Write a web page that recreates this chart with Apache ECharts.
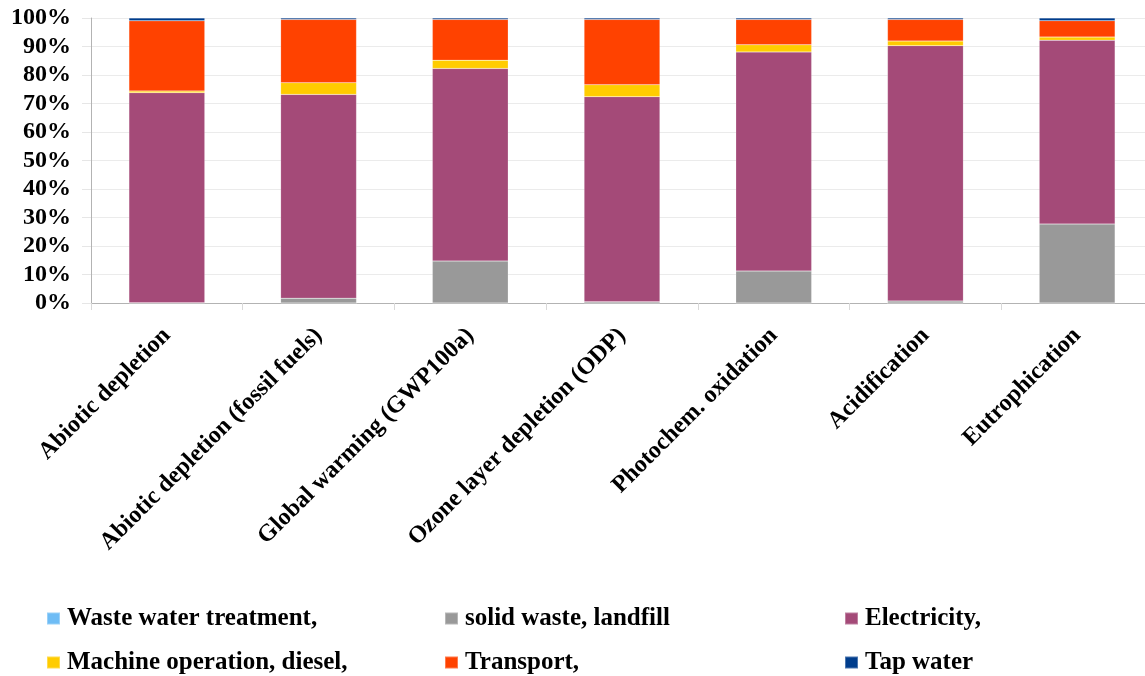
<!DOCTYPE html>
<html>
<head>
<meta charset="utf-8">
<script src="https://cdn.jsdelivr.net/npm/echarts@6/dist/echarts.min.js"></script>
<style>
  html, body { margin: 0; padding: 0; background: #ffffff; overflow: hidden; }
  /* the plot area runs slightly past the right edge of the window */
  #chart { width: 1153px; height: 676px; }
</style>
</head>
<body>
<div id="chart"></div>
<script>
// Impact categories along the x axis
const categories = [
  'Abiotic depletion',
  'Abiotic depletion (fossil fuels)',
  'Global warming (GWP100a)',
  'Ozone layer depletion (ODP)',
  'Photochem. oxidation',
  'Acidification',
  'Eutrophication'
];

// Contribution of each process to each impact category, in percent
const wasteWater  = [0.0, 0.0, 0.0, 0.0, 0.0, 0.0, 0.0];
const solidWaste  = [0.1, 1.7, 14.7, 0.4, 11.2, 0.7, 27.7];
const electricity = [73.7, 71.5, 67.6, 72.0, 76.9, 89.6, 64.5];
const diesel      = [0.6, 4.1, 2.9, 4.2, 2.5, 1.6, 1.1];
const transport   = [24.6, 22.2, 14.3, 22.9, 8.9, 7.6, 5.75];
const tapWater    = [1.0, 0.5, 0.5, 0.5, 0.5, 0.5, 0.95];

const yTicks = [0, 10, 20, 30, 40, 50, 60, 70, 80, 90, 100];

const seriesDefs = [
  { name: 'Waste water treatment,',    data: wasteWater,  color: '#6ebcf5' },
  { name: 'solid waste, landfill',     data: solidWaste,  color: '#999999' },
  { name: 'Electricity,',              data: electricity, color: '#a44a78' },
  { name: 'Machine operation, diesel,', data: diesel,     color: '#ffcc00' },
  { name: 'Transport,',                data: transport,   color: '#ff4200' },
  { name: 'Tap water',                 data: tapWater,    color: '#003d8c' }
];

const serif = '"Liberation Serif", "DejaVu Serif", serif';

// One legend box per entry so the entries sit in a fixed 3-column grid
const legendSlots = [
  { left: 46,  top: 606 }, { left: 444, top: 606 }, { left: 844, top: 606 },
  { left: 46,  top: 650 }, { left: 444, top: 650 }, { left: 844, top: 650 }
];

const chart = echarts.init(document.getElementById('chart'), null, { renderer: 'canvas' });

chart.setOption({
  backgroundColor: '#ffffff',
  animation: false,
  grid: { left: 91, right: 0, top: 18, bottom: 373 },
  legend: seriesDefs.map((s, i) => ({
    data: [s.name],
    left: legendSlots[i].left,
    top: legendSlots[i].top,
    padding: 0,
    itemWidth: 13,
    itemHeight: 12,
    icon: 'rect',
    selectedMode: false,
    textStyle: { fontFamily: serif, fontWeight: 'bold', fontSize: 25, color: '#000000', padding: [0, 0, 0, 2] }
  })),
  xAxis: {
    type: 'category',
    data: categories,
    axisLine: { lineStyle: { color: '#b3b3b3', width: 1 } },
    axisTick: { show: true, alignWithLabel: false, length: 7, lineStyle: { color: '#d9d9d9' } },
    axisLabel: {
      interval: 0,
      rotate: 45,
      margin: 29,
      fontFamily: serif,
      fontWeight: 'bold',
      fontSize: 24,
      color: '#000000'
    }
  },
  yAxis: {
    type: 'value',
    min: yTicks[0],
    max: yTicks[yTicks.length - 1],
    interval: 10,
    axisLine: { show: true, lineStyle: { color: '#b3b3b3', width: 1 } },
    axisTick: { show: true, length: 9, lineStyle: { color: '#e6e6e6' } },
    splitLine: { lineStyle: { color: '#ebebeb', width: 1 } },
    axisLabel: {
      formatter: '{value}%',
      margin: 20,
      fontFamily: serif,
      fontWeight: 'bold',
      fontSize: 24,
      color: '#000000'
    }
  },
  series: seriesDefs.map(s => ({
    name: s.name,
    type: 'bar',
    stack: 'total',
    barWidth: '50%',
    data: s.data,
    itemStyle: { color: s.color, borderColor: 'rgba(255,255,255,0.3)', borderWidth: 0.5 },
    emphasis: { disabled: true }
  }))
});
</script>
</body>
</html>
